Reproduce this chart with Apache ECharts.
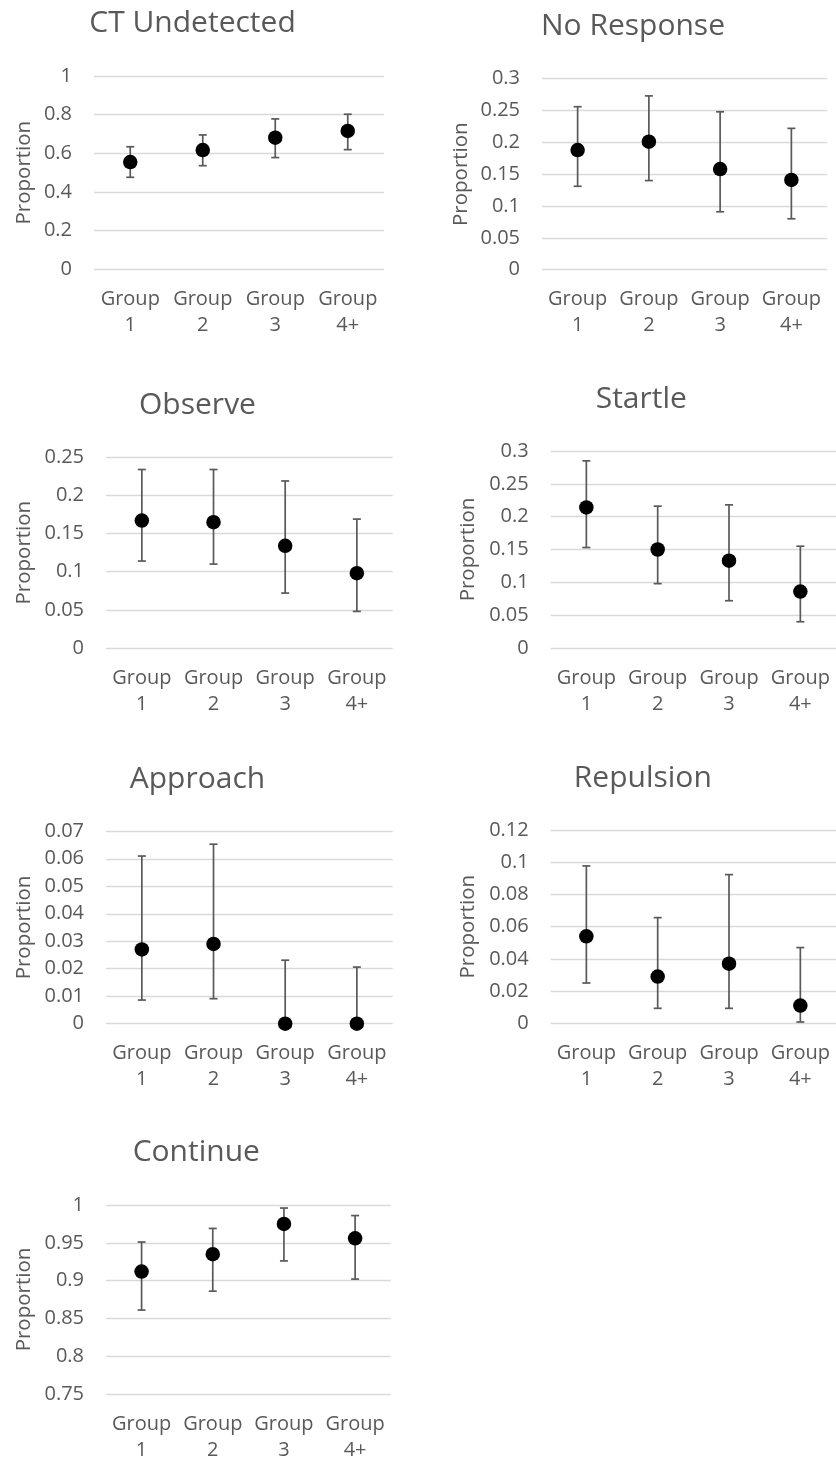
<!DOCTYPE html>
<html>
<head>
<meta charset="utf-8">
<script src="https://cdn.jsdelivr.net/npm/echarts@6/dist/echarts.min.js"></script>
<style>
html,body{margin:0;padding:0;background:#fff;}
#chart{width:836px;height:1463px;}
</style>
</head>
<body>
<div id="chart"></div>
<script>
const categories = ['Group\n1', 'Group\n2', 'Group\n3', 'Group\n4+'];

const titles = ['CT Undetected', 'No Response', 'Observe', 'Startle', 'Approach', 'Repulsion', 'Continue'];

const ctMean = [0.555, 0.617, 0.681, 0.716];
const ctLow  = [0.476, 0.536, 0.578, 0.619];
const ctHigh = [0.634, 0.695, 0.778, 0.802];

const nrMean = [0.188, 0.201, 0.158, 0.141];
const nrLow  = [0.131, 0.140, 0.091, 0.080];
const nrHigh = [0.256, 0.273, 0.248, 0.222];

const obMean = [0.167, 0.165, 0.134, 0.098];
const obLow  = [0.114, 0.110, 0.072, 0.048];
const obHigh = [0.234, 0.234, 0.219, 0.169];

const stMean = [0.214, 0.150, 0.133, 0.086];
const stLow  = [0.153, 0.098, 0.072, 0.040];
const stHigh = [0.285, 0.216, 0.218, 0.155];

const apMean = [0.027, 0.029, 0, 0];
const apLow  = [0.0086, 0.0091, 0, 0];
const apHigh = [0.0610, 0.0653, 0.0231, 0.0206];

const reMean = [0.054, 0.029, 0.037, 0.011];
const reLow  = [0.025, 0.0093, 0.0093, 0.0008];
const reHigh = [0.0977, 0.0656, 0.0923, 0.047];

const coMean = [0.912, 0.935, 0.975, 0.956];
const coLow  = [0.861, 0.886, 0.926, 0.902];
const coHigh = [0.951, 0.969, 0.996, 0.986];

const yMins      = [0, 0, 0, 0, 0, 0, 0.75];
const yMaxs      = [1, 0.3, 0.25, 0.3, 0.07, 0.12, 1];
const yIntervals = [0.2, 0.05, 0.05, 0.05, 0.01, 0.02, 0.05];

const panels = [
  {mean: ctMean, low: ctLow, high: ctHigh},
  {mean: nrMean, low: nrLow, high: nrHigh},
  {mean: obMean, low: obLow, high: obHigh},
  {mean: stMean, low: stLow, high: stHigh},
  {mean: apMean, low: apLow, high: apHigh},
  {mean: reMean, low: reLow, high: reHigh},
  {mean: coMean, low: coLow, high: coHigh}
];

// layout (pixels)
const grids = [
  {left: 94,    top: 76,    width: 290,   height: 193.3},
  {left: 542,   top: 78.7,  width: 285,   height: 191},
  {left: 106,   top: 457.3, width: 286.7, height: 190.7},
  {left: 550.7, top: 451,   width: 285.3, height: 197},
  {left: 106,   top: 831.3, width: 286.7, height: 192.4},
  {left: 550.7, top: 830,   width: 285.3, height: 193.3},
  {left: 106,   top: 1205,  width: 284.7, height: 190.3}
];
const titlePos = [
  [192.5, 24], [633, 27.5], [197.5, 406], [641.3, 400],
  [197.5, 780.5], [642.8, 779], [196.3, 1153.7]
];
const nameCenterX = [22.7, 459.3, 22.7, 466.7, 22.7, 466.7, 22.7];

const TXT = '#595959';
const FONT = '"Open Sans", "Noto Sans", sans-serif';

const option = {
  backgroundColor: '#ffffff',
  animation: false,
  textStyle: {fontFamily: FONT},
  title: titles.map((t, i) => ({
    text: t,
    left: titlePos[i][0],
    top: titlePos[i][1] - 16,
    textAlign: 'center',
    padding: 0,
    textStyle: {fontFamily: FONT, fontSize: 30, fontWeight: 'normal', color: TXT}
  })),
  grid: grids.map(g => Object.assign({containLabel: false}, g)),
  xAxis: grids.map((g, i) => ({
    type: 'category',
    gridIndex: i,
    data: categories,
    boundaryGap: true,
    axisLine: {show: false},
    axisTick: {show: false},
    splitLine: {show: false},
    axisLabel: {
      color: TXT, fontFamily: FONT, fontSize: 20, lineHeight: 26,
      margin: 17, interval: 0, align: 'center'
    }
  })),
  yAxis: grids.map((g, i) => ({
    type: 'value',
    gridIndex: i,
    min: yMins[i],
    max: yMaxs[i],
    interval: yIntervals[i],
    name: 'Proportion',
    nameLocation: 'middle',
    nameRotate: 90,
    nameGap: g.left - nameCenterX[i] - 12,
    nameTextStyle: {color: TXT, fontFamily: FONT, fontSize: 20.5},
    axisLine: {show: false},
    axisTick: {show: false},
    splitLine: {show: true, lineStyle: {color: '#d9d9d9', width: 1.4}},
    axisLabel: {
      color: TXT, fontFamily: FONT, fontSize: 20, margin: 22,
      formatter: v => String(+v.toFixed(4))
    }
  })),
  series: []
};

panels.forEach((p, i) => {
  const errData = categories.map((c, k) => [k, p.low[k], p.high[k]]);
  option.series.push({
    type: 'custom',
    xAxisIndex: i,
    yAxisIndex: i,
    z: 2,
    data: errData,
    renderItem: function (params, api) {
      const lo = api.coord([api.value(0), api.value(1)]);
      const hi = api.coord([api.value(0), api.value(2)]);
      const hw = 4;
      const style = {stroke: '#595959', lineWidth: 1.7, fill: null};
      return {
        type: 'group',
        children: [
          {type: 'line', shape: {x1: lo[0], y1: lo[1], x2: hi[0], y2: hi[1]}, style: style},
          {type: 'line', shape: {x1: lo[0] - hw, y1: lo[1], x2: lo[0] + hw, y2: lo[1]}, style: style},
          {type: 'line', shape: {x1: hi[0] - hw, y1: hi[1], x2: hi[0] + hw, y2: hi[1]}, style: style}
        ]
      };
    }
  });
  option.series.push({
    type: 'scatter',
    xAxisIndex: i,
    yAxisIndex: i,
    z: 5,
    symbol: 'circle',
    symbolSize: 14.5,
    itemStyle: {color: '#000000', opacity: 1},
    data: p.mean.map((v, k) => [k, v])
  });
});

const chart = echarts.init(document.getElementById('chart'), null, {renderer: 'canvas'});
chart.setOption(option);
</script>
</body>
</html>
